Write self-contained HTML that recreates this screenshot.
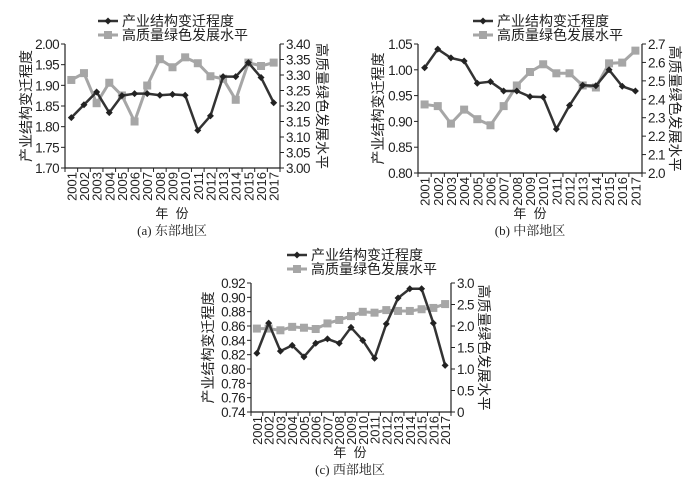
<!DOCTYPE html><html><head><meta charset="utf-8"><style>body{margin:0;background:#fff}svg{display:block}text{font-family:"Liberation Sans","Noto Sans CJK SC",sans-serif;fill:#222}.t{letter-spacing:-0.6px}</style></head><body>
<svg id="s" width="700" height="478" xmlns="http://www.w3.org/2000/svg"></svg>
<script>
const S=document.getElementById('s');let h='';
function chart(o){
 const {L,R,T,B,lmin,lmax,lstep,lfmt,rmin,rmax,rstep,rfmt,blk,gry,cap,lx,ly,capx,yrY,nfY,capY}=o;
 const n=17,w=(R-L)/n;
 const X=i=>L+(i+0.5)*w, YL=v=>B-(v-lmin)/(lmax-lmin)*(B-T), YR=v=>B-(v-rmin)/(rmax-rmin)*(B-T);
 h+=`<path d="M${L} ${T}V${B}H${R}V${T}" fill="none" stroke="#222" stroke-width="1.2"/>`;
 for(let v=lmin;v<=lmax+1e-9;v+=lstep){const y=YL(v);h+=`<line x1="${L-4}" x2="${L}" y1="${y}" y2="${y}" stroke="#222"/><text class="t" x="${L-6}" y="${y+5}" font-size="13.5" text-anchor="end">${v.toFixed(lfmt)}</text>`;}
 for(let v=rmin;v<=rmax+1e-9;v+=rstep){const y=YR(v);let t=v.toFixed(rfmt);if(Math.abs(v)<1e-9&&o.rzero)t='0';h+=`<line x1="${R}" x2="${R+4}" y1="${y}" y2="${y}" stroke="#222"/><text class="t" x="${R+6}" y="${y+5}" font-size="13.5">${t}</text>`;}
 for(let i=0;i<=n;i++){const x=L+i*w;h+=`<line x1="${x}" x2="${x}" y1="${B}" y2="${B+4}" stroke="#222"/>`;}
 for(let i=0;i<n;i++){h+=`<text transform="translate(${X(i)+5},${B+4}) rotate(-90)" font-size="13" text-anchor="end">${2001+i}</text>`;}
 h+=`<polyline points="${gry.map((v,i)=>X(i)+','+YR(v)).join(' ')}" fill="none" stroke="#a6a6a6" stroke-width="3"/>`;
 gry.forEach((v,i)=>h+=`<rect x="${X(i)-4}" y="${YR(v)-4}" width="8" height="8" fill="#a6a6a6"/>`);
 h+=`<polyline points="${blk.map((v,i)=>X(i)+','+YL(v)).join(' ')}" fill="none" stroke="#333" stroke-width="2.5"/>`;
 blk.forEach((v,i)=>{const x=X(i),y=YL(v);h+=`<path d="M${x} ${y-3.5}L${x+3.5} ${y}L${x} ${y+3.5}L${x-3.5} ${y}Z" fill="#222"/>`});
 h+=`<line x1="${lx}" x2="${lx+20}" y1="${ly}" y2="${ly}" stroke="#333" stroke-width="2.5"/><path d="M${lx+10} ${ly-3.5}l3.5 3.5l-3.5 3.5l-3.5-3.5z" fill="#222"/><text x="${lx+24}" y="${ly+5}" font-size="14">产业结构变迁程度</text>`;
 h+=`<line x1="${lx}" x2="${lx+20}" y1="${ly+14}" y2="${ly+14}" stroke="#a6a6a6" stroke-width="3"/><rect x="${lx+6}" y="${ly+10}" width="8" height="8" fill="#a6a6a6"/><text x="${lx+24}" y="${ly+19}" font-size="14">高质量绿色发展水平</text>`;
 const my=(T+B)/2;
 h+=`<text transform="translate(${o.ylx},${my}) rotate(-90)" font-size="14" text-anchor="middle">产业结构变迁程度</text>`;
 h+=`<text transform="translate(${o.yrx},${my}) rotate(90)" font-size="14" text-anchor="middle">高质量绿色发展水平</text>`;
 h+=`<text x="${capx}" y="${nfY}" font-size="13" text-anchor="middle">年 &#160;份</text>`;
 h+=`<text x="${capx}" y="${capY}" font-size="13" text-anchor="middle" style="font-family:'Liberation Serif','Noto Serif CJK SC',serif">${cap}</text>`;
}
chart({L:65,R:280,T:44,B:168,lmin:1.70,lmax:2.00,lstep:0.05,lfmt:2,rmin:3.00,rmax:3.40,rstep:0.05,rfmt:2,
blk:[1.822,1.853,1.884,1.834,1.875,1.880,1.880,1.876,1.878,1.876,1.791,1.826,1.921,1.921,1.955,1.919,1.858],
gry:[3.284,3.306,3.209,3.275,3.234,3.150,3.266,3.351,3.325,3.357,3.338,3.296,3.288,3.220,3.340,3.329,3.340],
cap:"(a) 东部地区",lx:98,ly:21,capx:172,nfY:218,capY:235,ylx:31,yrx:317});
chart({L:418,R:642,T:44,B:173,lmin:0.80,lmax:1.05,lstep:0.05,lfmt:2,rmin:2.0,rmax:2.7,rstep:0.1,rfmt:1,
blk:[1.004,1.040,1.023,1.017,0.974,0.977,0.959,0.959,0.948,0.947,0.885,0.931,0.970,0.969,1.000,0.968,0.959],
gry:[2.372,2.363,2.268,2.344,2.292,2.259,2.363,2.475,2.548,2.590,2.541,2.541,2.475,2.464,2.595,2.599,2.664],
cap:"(b) 中部地区",lx:473,ly:21,capx:530,nfY:218,capY:235,ylx:383,yrx:670});
chart({L:251,R:451,T:283,B:412,lmin:0.74,lmax:0.92,lstep:0.02,lfmt:2,rmin:0,rmax:3.0,rstep:0.5,rfmt:1,rzero:true,
blk:[0.822,0.864,0.825,0.833,0.817,0.836,0.842,0.836,0.858,0.840,0.815,0.863,0.899,0.912,0.912,0.864,0.805],
gry:[1.94,1.94,1.90,1.98,1.96,1.93,2.06,2.14,2.23,2.33,2.31,2.37,2.35,2.35,2.39,2.42,2.51],
cap:"(c) 西部地区",lx:287,ly:255,capx:350,nfY:457,capY:474,ylx:213,yrx:479});
S.innerHTML=h;
</script></body></html>
